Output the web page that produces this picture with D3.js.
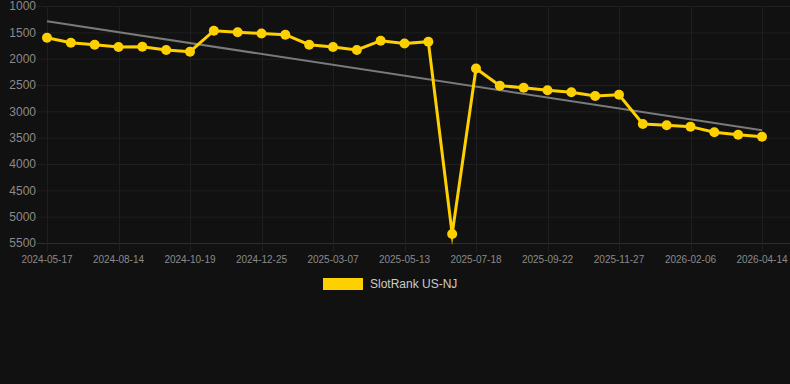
<!DOCTYPE html>
<html>
<head>
<meta charset="utf-8">
<script src="https://cdn.jsdelivr.net/npm/d3@7"></script>
<style>
  html, body { margin: 0; padding: 0; background: #111111; }
  svg { display: block; font-family: Arial, "Liberation Sans", Helvetica, sans-serif; }
</style>
</head>
<body>
<div id="chart"></div>
<script>
// chart data
var dates = ["2024-05-17","2024-06-15","2024-07-15","2024-08-14","2024-09-06","2024-09-27",
  "2024-10-19","2024-11-12","2024-12-03","2024-12-25","2025-01-21","2025-02-13",
  "2025-03-07","2025-03-29","2025-04-21","2025-05-13","2025-06-04","2025-06-26",
  "2025-07-18","2025-08-09","2025-08-31","2025-09-22","2025-10-14","2025-11-05",
  "2025-11-27","2025-12-21","2026-01-14","2026-02-06","2026-02-28","2026-03-23","2026-04-14"];
var ranks = [1602,1697,1735,1778,1773,1835,1868,1469,1499,1522,1545,1735,1778,1835,1659,1712,1678,
  5329,2187,2513,2551,2601,2639,2709,2684,3241,3265,3291,3398,3444,3482];
var yTicks = [1000,1500,2000,2500,3000,3500,4000,4500,5000,5500];
var seriesName = "SlotRank US-NJ";

var W = 790, H = 384;
var svg = d3.select("#chart").append("svg").attr("width", W).attr("height", H);
svg.append("rect").attr("width", W).attr("height", H).attr("fill", "#111111");

var x = d3.scalePoint().domain(d3.range(dates.length)).range([47, 762]);
var y = d3.scaleLinear().domain([1000, 5500]).range([6, 243]);
var gridLeft = 37, gridRight = 790;

// horizontal grid + y labels
var yAxis = svg.append("g");
yAxis.selectAll("line").data(yTicks).enter().append("line")
  .attr("x1", gridLeft).attr("x2", gridRight)
  .attr("y1", function(d){ return y(d) + 0.5; })
  .attr("y2", function(d){ return y(d) + 0.5; })
  .attr("stroke", function(d){ return d === 5500 ? "#2e2e2e" : "#1f1f1f"; })
  .attr("stroke-width", 1);
yAxis.selectAll("text").data(yTicks).enter().append("text")
  .attr("x", 36).attr("y", function(d){ return y(d); })
  .attr("dy", "0.35em").attr("text-anchor", "end")
  .attr("fill", "#8a8a8a").attr("font-size", 12)
  .text(function(d){ return d; });

// vertical grid + x labels (every third category)
var shown = d3.range(0, dates.length, 3);
var xAxis = svg.append("g");
xAxis.selectAll("line").data(shown).enter().append("line")
  .attr("x1", function(i){ return Math.round(x(i)) + 0.5; })
  .attr("x2", function(i){ return Math.round(x(i)) + 0.5; })
  .attr("y1", 6).attr("y2", 252)
  .attr("stroke", "#1f1f1f").attr("stroke-width", 1);
xAxis.selectAll("text").data(shown).enter().append("text")
  .attr("x", function(i){ return x(i); }).attr("y", 259)
  .attr("dy", "0.35em").attr("text-anchor", "middle")
  .attr("fill", "#8a8a8a").attr("font-size", 10)
  .text(function(i){ return dates[i]; });

// linear trend
var n = ranks.length;
var mx = d3.mean(d3.range(n)), my = d3.mean(ranks);
var sxy = d3.sum(ranks, function(v, i){ return (i - mx) * (v - my); });
var sxx = d3.sum(d3.range(n), function(i){ return (i - mx) * (i - mx); });
var slope = sxy / sxx, icpt = my - slope * mx;
svg.append("line")
  .attr("x1", x(0)).attr("y1", y(icpt))
  .attr("x2", x(n - 1)).attr("y2", y(icpt + slope * (n - 1)))
  .attr("stroke", "#7a7a7a").attr("stroke-width", 2);

// series line
var line = d3.line()
  .x(function(d, i){ return x(i); })
  .y(function(d){ return y(d); });
svg.append("path").datum(ranks)
  .attr("d", line).attr("fill", "none")
  .attr("stroke", "#FFD000").attr("stroke-width", 3)
  .attr("stroke-linejoin", "miter").attr("stroke-miterlimit", 10);
svg.selectAll("circle.pt").data(ranks).enter().append("circle")
  .attr("class", "pt")
  .attr("cx", function(d, i){ return x(i); })
  .attr("cy", function(d){ return y(d); })
  .attr("r", 5).attr("fill", "#FFD000");

// legend
var lg = svg.append("g");
lg.append("rect").attr("x", 323).attr("y", 278).attr("width", 40).attr("height", 12)
  .attr("fill", "#FFD000");
lg.append("text").attr("x", 370).attr("y", 284).attr("dy", "0.35em")
  .attr("fill", "#cccccc").attr("font-size", 12).text(seriesName);
</script>
</body>
</html>
